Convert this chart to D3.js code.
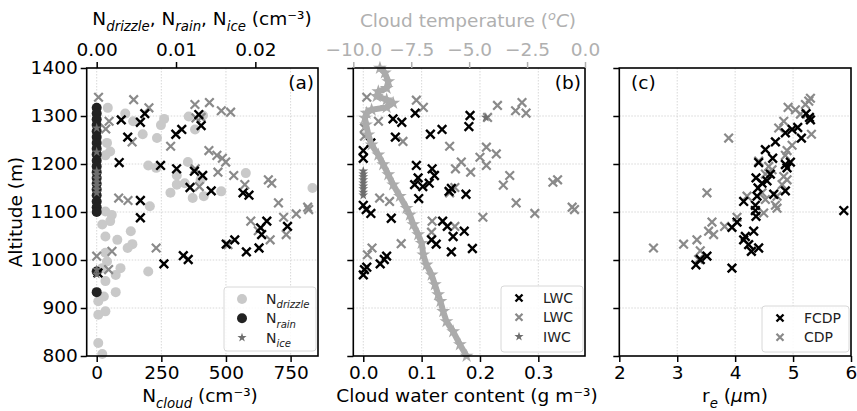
<!DOCTYPE html>
<html>
<head>
<meta charset="utf-8">
<script src="https://cdn.jsdelivr.net/npm/d3@7"></script>
<style>
  body { margin: 0; background: #fff; }
  svg text { font-family: "DejaVu Sans", sans-serif; }
</style>
</head>
<body>
<div id="chart"></div>
<script>
// profile data: [value, altitude (m)]

// panel (a), top axis (cm-3)
var drizzle = [[0.0014,1317],[0.0036,1305],[0.0046,1289],[0.0058,1262],[0.0076,1254],[0.0081,1281],[0.0085,1294],
  [0.0116,1299],[0.0124,1272],[0.0134,1301],[0.0013,1244],[0.0017,1226],[0.0011,1218],
  [0.0065,1197],[0.0075,1192],[0.0101,1176],[0.0115,1204],[0.0101,1157],[0.0111,1160],[0.0131,1167],
  [0.0093,1140],[0.0121,1129],[0.0135,1133],[0.0157,1143],[0.0188,1181],[0.0067,1112],[0.0272,1150],
  [0.0011,1101],[0.0019,1094],[0.0007,1074],[0.0017,1081],[0.0011,1049],[0.0026,1042],[0.0043,1060],
  [0.0045,1033],[0.0039,1025],[0.0011,1015],[0.0013,997],[0.0007,983],[0.0024,969],[0.003,983],
  [0.0065,976],[0.0011,956],[0.0024,933],[0.0009,924],[0.0002,914],[0.0011,893],[0.0002,886],
  [0.0002,827],[0.0007,804]];
var rain = [[0,1317],[0,1305],[0,1293],[0,1281],[0,1268],[0,1256],[0,1244],[0,1232],[0,1220],[0,1207],
  [0,1195],[0,1183],[0,1171],[0,1159],[0,1147],[0,1135],[0,1122],[0,1110],[0,1100],[0,976],[0,933]];
var ice = [[0,1185],[0,1178],[0,1170],[0,1162],[0,1155],[0,1147],[0,1140],[0,1225],[0,1275],[0,980],[0,970]];

// panel (a), bottom axis: N_cloud (cm-3)
var cloudFCDP = [[95,1292],[169,1287],[186,1305],[120,1256],[306,1262],[329,1272],[395,1303],[404,1280],
  [87,1203],[247,1197],[309,1190],[378,1185],[410,1176],[361,1151],[443,1144],[566,1140],[589,1135],
  [169,1124],[169,1088],[658,1081],[634,1067],[638,1053],[738,1070],[534,1042],[501,1033],[579,1017],
  [628,1025],[335,1009],[354,1001],[260,992],[5,973]];
var cloudCDP = [[7,1339],[143,1334],[202,1317],[48,1289],[35,1273],[137,1246],[286,1237],[380,1324],
  [436,1328],[482,1311],[518,1308],[384,1296],[404,1297],[434,1228],[465,1218],[486,1212],[499,1204],
  [469,1183],[530,1176],[381,1190],[397,1153],[573,1157],[664,1167],[677,1160],[703,1119],[723,1089],
  [772,1096],[816,1110],[820,1105],[596,1081],[625,1061],[671,1042],[733,1053],[508,1032],[85,1129],
  [121,1124],[230,1025],[59,1018],[0,1008],[46,980]];

// panel (b): water content (g m-3)
var lwcFCDP = [[0.051,1294],[0.066,1287],[0.089,1306],[0.183,1301],[0.181,1278],[0.055,1256],[0.115,1262],
  [0.135,1272],[0.000,1228],[0.000,1212],[0.013,1244],[0.091,1197],[0.118,1190],[0.122,1176],[0.094,1171],
  [0.088,1157],[0.102,1153],[0.113,1160],[0.147,1143],[0.151,1149],[0.176,1137],[0.095,1128],[0.000,1114],
  [0.005,1105],[0.013,1097],[0.048,1087],[0.136,1081],[0.144,1070],[0.173,1060],[0.154,1049],[0.117,1042],
  [0.125,1033],[0.151,1017],[0.187,1024],[0.040,1008],[0.036,1001],[0.029,992],[0.006,985],[0.002,980],[0.000,969]];
var lwcCDP = [[0.006,1339],[0.091,1333],[0.103,1318],[0.026,1289],[0.068,1247],[0.002,1275],[0.002,1258],
  [0.148,1237],[0.230,1322],[0.272,1328],[0.261,1311],[0.279,1306],[0.213,1297],[0.211,1235],[0.200,1214],
  [0.228,1221],[0.211,1197],[0.168,1204],[0.158,1190],[0.184,1183],[0.251,1176],[0.240,1156],[0.157,1151],
  [0.148,1140],[0.262,1119],[0.325,1162],[0.333,1167],[0.294,1097],[0.358,1110],[0.362,1105],[0.205,1089],
  [0.118,1081],[0.117,1058],[0.157,1070],[0.065,1034],[0.015,1025],[0.007,1011],[0.028,1129],[0.045,1122]];
var iwc = [[0,1185],[0,1179],[0,1173],[0,1167],[0,1160],[0,1154],[0,1148],[0,1141],[0,1135],[0.21,1297]];

// panel (b), top axis: cloud temperature (deg C)
var tempProfile = [[-8.85,1400],[-8.64,1390],[-8.49,1372],[-8.56,1358],[-8.92,1351],[-8.99,1341],[-8.56,1334],
  [-8.28,1327],[-8.56,1318],[-9.21,1313],[-9.43,1306],[-9.50,1296],[-9.45,1282],[-9.35,1261],[-9.21,1240],
  [-8.92,1219],[-8.71,1199],[-8.49,1178],[-8.28,1157],[-7.99,1133],[-7.70,1108],[-7.56,1094],[-7.41,1074],
  [-7.20,1053],[-7.05,1035],[-6.98,1011],[-6.84,990],[-6.62,969],[-6.48,949],[-6.34,928],[-6.24,914],
  [-6.12,893],[-5.98,872],[-5.69,851],[-5.40,824],[-5.11,800]];

// panel (c): effective radius (um)
var reFCDP = [[5.225,1305],[5.283,1297],[5.30,1292],[5.08,1276],[4.983,1272],[4.867,1265],[5.144,1254],
  [4.695,1246],[4.522,1230],[4.648,1212],[4.406,1203],[4.867,1199],[4.954,1204],[4.896,1192],[4.608,1179],
  [4.36,1171],[4.464,1160],[4.55,1165],[4.395,1150],[4.378,1133],[4.666,1137],[4.867,1144],[4.147,1122],
  [4.349,1114],[4.349,1103],[4.36,1091],[4.032,1079],[3.945,1068],[4.32,1060],[4.176,1049],[4.147,1042],
  [4.233,1032],[4.406,1025],[4.28,1018],[3.513,1008],[3.398,1001],[3.323,990],[3.945,983],[5.876,1103]];
var reCDP = [[5.30,1337],[5.271,1331],[5.213,1324],[4.914,1318],[5.04,1313],[5.127,1304],[4.839,1289],
  [4.752,1275],[5.317,1262],[4.983,1239],[4.896,1228],[4.867,1218],[4.406,1206],[4.579,1195],[4.637,1188],
  [4.522,1179],[3.888,1254],[4.839,1174],[4.896,1167],[4.81,1157],[4.723,1133],[4.723,1108],[4.695,1114],
  [4.464,1140],[4.522,1126],[4.493,1098],[4.205,1133],[3.513,1140],[4.032,1089],[3.818,1070],[3.6,1079],
  [3.542,1060],[3.628,1053],[3.34,1042],[3.11,1033],[2.59,1025],[3.398,1019],[3.369,1001]];

var altTicks = [800, 900, 1000, 1100, 1200, 1300, 1400];

// ------------------------------------------------------------------
var width = 857, height = 411;
var plotTop = 68, plotBottom = 356;
var fontSize = 18.5;

var svg = d3.select("#chart").append("svg")
  .attr("width", width)
  .attr("height", height);

var y = d3.scaleLinear().domain([800, 1400]).range([plotBottom, plotTop]);

var xCloud = d3.scaleLinear().domain([-38.7, 856]).range([86.7, 318]);
var xConc = d3.scaleLinear().domain([-0.00126, 0.0279]).range([86.7, 318]);
var xWater = d3.scaleLinear().domain([-0.0171, 0.380]).range([353.3, 585]);
var xTemp = d3.scaleLinear().domain([-10, 0]).range([353.3, 585]);
var xRe = d3.scaleLinear().domain([2, 6]).range([619.3, 851]);

var gridColor = "#d4d4d4";

function drawGrid(x, xticks) {
  var g = svg.append("g");
  g.selectAll(".vg").data(xticks).enter().append("line")
    .attr("x1", d => x(d)).attr("x2", d => x(d))
    .attr("y1", plotTop).attr("y2", plotBottom)
    .attr("stroke", gridColor).attr("stroke-width", 0.9)
    .attr("stroke-dasharray", "1.5,1.5");
  g.selectAll(".hg").data(altTicks.slice(1, -1)).enter().append("line")
    .attr("x1", x.range()[0]).attr("x2", x.range()[1])
    .attr("y1", d => y(d)).attr("y2", d => y(d))
    .attr("stroke", gridColor).attr("stroke-width", 0.9)
    .attr("stroke-dasharray", "1.5,1.5");
}

function styleAxis(g, color) {
  g.select(".domain").remove();
  g.selectAll("line").attr("stroke", color).attr("stroke-width", 1.5);
  g.selectAll("text").attr("fill", color)
    .style("font-size", fontSize + "px")
    .style("font-family", "DejaVu Sans");
}

function crosses(data, x, color, sw) {
  var s = 4.3;
  svg.append("g").selectAll("path").data(data).enter().append("path")
    .attr("d", `M${-s},${-s}L${s},${s}M${-s},${s}L${s},${-s}`)
    .attr("transform", d => `translate(${x(d[0])},${y(d[1])})`)
    .attr("stroke", color).attr("stroke-width", sw).attr("fill", "none");
}

function dots(data, x, color, r) {
  svg.append("g").selectAll("circle").data(data).enter().append("circle")
    .attr("cx", d => x(d[0])).attr("cy", d => y(d[1]))
    .attr("r", r).attr("fill", color);
}

function stars(data, x, color, size) {
  var sym = d3.symbol().type(d3.symbolStar).size(size);
  svg.append("g").selectAll("path").data(data).enter().append("path")
    .attr("d", sym)
    .attr("transform", d => `translate(${x(d[0])},${y(d[1])})`)
    .attr("fill", color);
}

function frame(x) {
  var r = x.range();
  svg.append("rect")
    .attr("x", r[0]).attr("y", plotTop)
    .attr("width", r[1] - r[0]).attr("height", plotBottom - plotTop)
    .attr("fill", "none").attr("stroke", "#000").attr("stroke-width", 1.6);
}

// rich text: parts = [text, kind] where kind is "", "sub", "sup", "it"
function richText(g, parts, size) {
  var t = g.append("text").style("font-size", size + "px");
  var shift = 0;
  parts.forEach(function(p) {
    var ts = t.append("tspan").text(p[0]);
    var want = 0;
    if (p[1] === "sub") { want = size * 0.3; ts.style("font-size", (size * 0.72) + "px").style("font-style", "italic"); }
    if (p[1] === "sup") { want = -size * 0.38; ts.style("font-size", (size * 0.7) + "px").style("font-style", "italic"); }
    if (p[1] === "it") { ts.style("font-style", "italic"); }
    ts.attr("dy", want - shift);
    shift = want;
  });
  return t;
}

function legend(x0, y0, w, h, rows) {
  var g = svg.append("g");
  g.append("rect")
    .attr("x", x0).attr("y", y0).attr("width", w).attr("height", h)
    .attr("rx", 3).attr("fill", "#fff").attr("fill-opacity", 0.85)
    .attr("stroke", "#d8d8d8").attr("stroke-width", 1);
  rows.forEach(function(r, i) {
    var cy = y0 + 12 + i * 19.3;
    var mx = x0 + 18;
    if (r.type === "circle") {
      g.append("circle").attr("cx", mx).attr("cy", cy).attr("r", 5).attr("fill", r.color);
    } else if (r.type === "star") {
      g.append("path").attr("d", d3.symbol().type(d3.symbolStar).size(26))
        .attr("transform", `translate(${mx},${cy})`).attr("fill", r.color);
    } else {
      g.append("path").attr("d", "M-3.5,-3.5L3.5,3.5M-3.5,3.5L3.5,-3.5")
        .attr("transform", `translate(${mx},${cy})`)
        .attr("stroke", r.color).attr("stroke-width", r.sw).attr("fill", "none");
    }
    var t = richText(g, r.label, 14);
    t.attr("x", x0 + 42).attr("y", cy + 5).attr("fill", "#222");
  });
}

// ---------------------- panel (a) ----------------------
drawGrid(xCloud, [0, 250, 500, 750]);
dots(drizzle, xConc, "#c9c9c9", 5);
dots(rain, xConc, "#222", 5);
crosses(cloudCDP, xCloud, "#8a8a8a", 2.2);
crosses(cloudFCDP, xCloud, "#000", 2.4);
stars(ice, xConc, "#6e6e6e", 30);
frame(xCloud);

svg.append("g").attr("transform", `translate(0,${plotBottom})`)
  .call(d3.axisBottom(xCloud).tickValues([0, 250, 500, 750]).tickFormat(d3.format("d")).tickSize(6).tickPadding(4))
  .call(g => styleAxis(g, "#000"));
svg.append("g").attr("transform", `translate(0,${plotTop})`)
  .call(d3.axisTop(xConc).tickValues([0, 0.01, 0.02]).tickFormat(d3.format(".2f")).tickSize(6).tickPadding(6))
  .call(g => styleAxis(g, "#000"));
svg.append("g").attr("transform", `translate(86.7,0)`)
  .call(d3.axisLeft(y).tickValues(altTicks).tickFormat(d3.format("d")).tickSize(6).tickPadding(3))
  .call(g => styleAxis(g, "#000"));

svg.append("text").attr("x", 314).attr("y", 89).attr("text-anchor", "end")
  .style("font-size", fontSize + "px").text("(a)");

richText(svg, [["N", ""], ["drizzle", "sub"], [", N", ""], ["rain", "sub"], [", N", ""], ["ice", "sub"], [" (cm⁻³)", ""]], fontSize)
  .attr("x", 202).attr("y", 25).attr("text-anchor", "middle");
richText(svg, [["N", ""], ["cloud", "sub"], [" (cm⁻³)", ""]], fontSize)
  .attr("x", 200).attr("y", 402).attr("text-anchor", "middle");
svg.append("text")
  .attr("transform", "translate(22,212) rotate(-90)")
  .attr("text-anchor", "middle")
  .style("font-size", fontSize + "px").text("Altitude (m)");

legend(224, 287, 92, 64, [
  {type: "circle", color: "#c9c9c9", label: [["N", ""], ["drizzle", "sub"]]},
  {type: "circle", color: "#222", label: [["N", ""], ["rain", "sub"]]},
  {type: "star", color: "#6e6e6e", label: [["N", ""], ["ice", "sub"]]}
]);

// ---------------------- panel (b) ----------------------
drawGrid(xWater, [0, 0.1, 0.2, 0.3]);
crosses(lwcCDP, xWater, "#8a8a8a", 2.2);
crosses(lwcFCDP, xWater, "#000", 2.4);
stars(iwc, xWater, "#6e6e6e", 30);

svg.append("path")
  .datum(tempProfile)
  .attr("d", d3.line().x(d => xTemp(d[0])).y(d => y(d[1])))
  .attr("fill", "none").attr("stroke", "#ababab")
  .attr("stroke-width", 6).attr("stroke-linejoin", "round");
stars(tempProfile, xTemp, "#ababab", 60);
frame(xWater);

svg.append("g").attr("transform", `translate(0,${plotBottom})`)
  .call(d3.axisBottom(xWater).tickValues([0, 0.1, 0.2, 0.3]).tickFormat(d3.format(".1f")).tickSize(6).tickPadding(4))
  .call(g => styleAxis(g, "#000"));
svg.append("g").attr("transform", `translate(0,${plotTop})`)
  .call(d3.axisTop(xTemp).tickValues([-10, -7.5, -5, -2.5, 0]).tickFormat(d3.format(".1f")).tickSize(6).tickPadding(6))
  .call(g => styleAxis(g, "#b0b0b0"));
svg.append("g").attr("transform", `translate(353.3,0)`)
  .call(d3.axisLeft(y).tickValues(altTicks).tickSize(6).tickFormat(""))
  .call(g => styleAxis(g, "#000"));

svg.append("text").attr("x", 581).attr("y", 89).attr("text-anchor", "end")
  .style("font-size", fontSize + "px").text("(b)");

richText(svg, [["Cloud temperature (", ""], ["o", "sup"], ["C", "it"], [")", ""]], fontSize)
  .attr("x", 468).attr("y", 27).attr("text-anchor", "middle").attr("fill", "#b0b0b0");
richText(svg, [["Cloud water content (g m⁻³)", ""]], fontSize)
  .attr("x", 467).attr("y", 402).attr("text-anchor", "middle");

legend(501, 286, 82, 66, [
  {type: "cross", color: "#000", sw: 2.4, label: [["LWC", ""]]},
  {type: "cross", color: "#8a8a8a", sw: 2.2, label: [["LWC", ""]]},
  {type: "star", color: "#6e6e6e", label: [["IWC", ""]]}
]);

// ---------------------- panel (c) ----------------------
drawGrid(xRe, [3, 4, 5]);
crosses(reCDP, xRe, "#8a8a8a", 2.2);
crosses(reFCDP, xRe, "#000", 2.4);
frame(xRe);

svg.append("g").attr("transform", `translate(0,${plotBottom})`)
  .call(d3.axisBottom(xRe).tickValues([2, 3, 4, 5, 6]).tickFormat(d3.format("d")).tickSize(6).tickPadding(4))
  .call(g => styleAxis(g, "#000"));
svg.append("g").attr("transform", `translate(619.3,0)`)
  .call(d3.axisLeft(y).tickValues(altTicks).tickSize(6).tickFormat(""))
  .call(g => styleAxis(g, "#000"));

svg.append("text").attr("x", 631).attr("y", 89)
  .style("font-size", fontSize + "px").text("(c)");

richText(svg, [["r", ""], ["e", "sub"], [" (", ""], ["µ", "it"], ["m)", ""]], fontSize)
  .attr("x", 735).attr("y", 402).attr("text-anchor", "middle");

legend(762, 306, 87, 46, [
  {type: "cross", color: "#000", sw: 2.4, label: [["FCDP", ""]]},
  {type: "cross", color: "#8a8a8a", sw: 2.2, label: [["CDP", ""]]}
]);
</script>
</body>
</html>
